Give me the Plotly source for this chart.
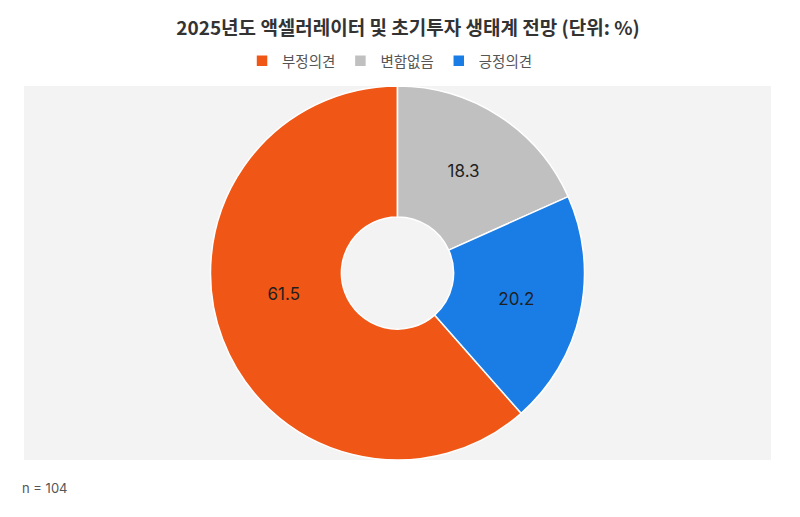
import plotly.graph_objects as go

labels = ["부정의견", "변함없음", "긍정의견"]
values = [61.5, 18.3, 20.2]
colors = ["#F05716", "#C0C0C0", "#1A7DE6"]

title_text = "2025년도 액셀러레이터 및 초기투자 생태계 전망 (단위: %)"
note_text = "n = 104"

# the big slice's label sits a little higher in the original
templates = ["%{value}<br> <br> ", "%{value}", "%{value}"]

fig = go.Figure(go.Pie(
    labels=labels,
    values=values,
    sort=False,
    direction="clockwise",
    rotation=138.6,
    hole=0.3,
    marker=dict(colors=colors, line=dict(color="white", width=1.5)),
    texttemplate=templates,
    textposition="inside",
    insidetextorientation="horizontal",
    textfont=dict(family="Inter, Arial", size=17, color="#1f1f1f"),
    hoverinfo="label+value",
))

fig.update_layout(
    width=800,
    height=517,
    margin=dict(l=16, r=37, t=78, b=65),
    paper_bgcolor="white",
    font=dict(family="Noto Sans CJK KR", color="#444"),
    title=dict(
        text="<b>" + title_text + "</b>",
        x=0.5, xanchor="center",
        y=0.961, yanchor="middle",
        font=dict(size=19, color="#333"),
    ),
    legend=dict(
        orientation="h",
        x=0.49, xanchor="center",
        y=1.067, yanchor="middle",
        font=dict(size=14.5, color="#555"),
        itemwidth=30,
    ),
    shapes=[dict(
        type="rect", xref="paper", yref="paper",
        x0=0, x1=1, y0=0, y1=1,
        fillcolor="#F3F3F3", line=dict(width=0), layer="below",
    )],
    annotations=[dict(
        text=note_text, xref="paper", yref="paper",
        x=-0.006, y=-0.076, xanchor="left", yanchor="middle",
        showarrow=False, font=dict(family="Inter, Arial", size=13, color="#555"),
    )],
)

fig.write_html("out.html")
